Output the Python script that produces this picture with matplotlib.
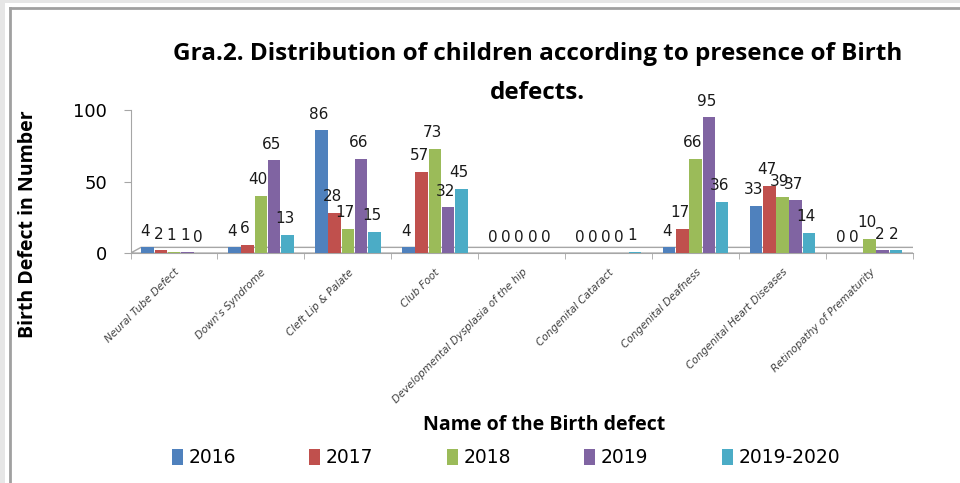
import matplotlib.pyplot as plt
import numpy as np
from matplotlib.patches import Polygon, Rectangle
from matplotlib.lines import Line2D
from matplotlib.transforms import ScaledTranslation

DEFECTS = ['Neural Tube Defect', "Down's Syndrome", 'Cleft Lip & Palate', 'Club Foot',
           'Developmental Dysplasia of the hip', 'Congenital Cataract',
           'Congenital Deafness', 'Congenital Heart Diseases', 'Retinopathy of Prematurity']
YEARS = ['2016', '2017', '2018', '2019', '2019-2020']

Y2016 = [4, 4, 86, 4, 0, 0, 4, 33, 0]
Y2017 = [2, 6, 28, 57, 0, 0, 17, 47, 0]
Y2018 = [1, 40, 17, 73, 0, 0, 66, 39, 10]
Y2019 = [1, 65, 66, 32, 0, 0, 95, 37, 2]
Y2020 = [0, 13, 15, 45, 0, 1, 36, 14, 2]

COLORS = ['#4F81BD', '#C0504D', '#9BBB59', '#8064A2', '#4BACC6']

fig = plt.figure(figsize=(9.6, 4.83), dpi=100)
# window frame around the chart
fig.patches.append(Rectangle((0, 0), 5 / 960, 1, transform=fig.transFigure,
                             facecolor='#E6E6E6', edgecolor='none'))
fig.patches.append(Rectangle((0, 1 - 3 / 483), 1, 3 / 483, transform=fig.transFigure,
                             facecolor='#E6E6E6', edgecolor='none'))
fig.lines.append(Line2D([10 / 960, 10 / 960], [0, 1 - 8 / 483], transform=fig.transFigure,
                        color='#A0A0A0', lw=2))
fig.lines.append(Line2D([10 / 960, 1], [1 - 8 / 483, 1 - 8 / 483], transform=fig.transFigure,
                        color='#A0A0A0', lw=2))

ax = fig.add_axes([0.136, 0.476, 0.815, 0.296])

x = np.arange(len(DEFECTS))
w = 0.152
for i, (vals, lab, c) in enumerate(zip([Y2016, Y2017, Y2018, Y2019, Y2020], YEARS, COLORS)):
    pos = x + (i - 2) * w
    ax.bar(pos, vals, w * 0.95, color=c, label=lab, zorder=3)
    for p, v in zip(pos, vals):
        ax.text(p - 0.03, v + 6, str(v), ha='center', va='bottom', fontsize=11,
                color='#1a1a1a', zorder=4)

# floor
floor = Polygon([(-0.5, 0), (8.5, 0), (8.62, 4), (-0.38, 4)], closed=True,
                facecolor='white', edgecolor='#A6A6A6', lw=1, zorder=1)
ax.add_patch(floor)

ax.set_xlim(-0.5, 8.5)
ax.set_ylim(0, 100)
ax.set_yticks([0, 50, 100])
ax.tick_params(axis='y', labelsize=13, length=5, pad=12, color='#A6A6A6')
ax.set_xticks(x)
ax.set_xticklabels(DEFECTS, rotation=45, ha='right', rotation_mode='anchor',
                   fontsize=7.5, style='italic', color='#404040')
for t in ax.get_xticklabels():
    t.set_transform(t.get_transform() + ScaledTranslation(0.03, 0, fig.dpi_scale_trans))
ax.set_xticks(np.arange(-0.5, 9, 1), minor=True)
ax.tick_params(axis='x', which='major', length=0, pad=10)
ax.tick_params(axis='x', which='minor', length=4, color='#A6A6A6')
for s in ['top', 'right']:
    ax.spines[s].set_visible(False)
ax.spines['left'].set_color('#A6A6A6')
ax.spines['bottom'].set_color('#A6A6A6')

ax.set_ylabel('Birth Defect in Number', fontsize=14, fontweight='bold', family='Open Sans')
ax.yaxis.set_label_coords(-0.118, 0.2)

fig.text(0.56, 0.875, 'Gra.2. Distribution of children according to presence of Birth',
         ha='center', fontsize=17.5, fontweight='bold', family='Open Sans')
fig.text(0.56, 0.795, 'defects.', ha='center', fontsize=17.5, fontweight='bold',
         family='Open Sans')
fig.text(0.567, 0.11, 'Name of the Birth defect', ha='center', fontsize=14,
         fontweight='bold', family='Open Sans')

fig.legend(loc='center', bbox_to_anchor=(0.527, 0.052), ncol=5, frameon=False,
           fontsize=13.5, handlelength=0.6, handleheight=0.9, handletextpad=0.3,
           columnspacing=3.9)

fig.savefig('out.png', dpi=100)
